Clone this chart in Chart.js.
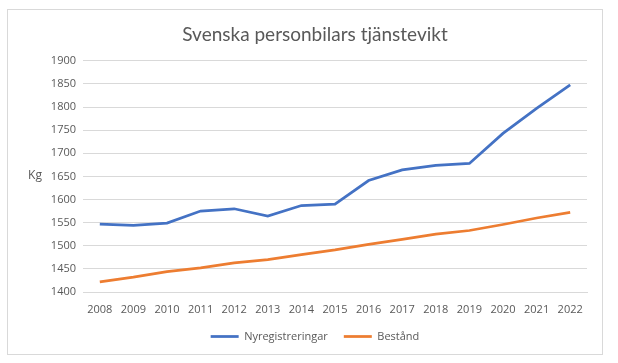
<!DOCTYPE html>
<html><head><meta charset="utf-8">
<script src="https://cdn.jsdelivr.net/npm/chart.js@4"></script>
<style>html,body{margin:0;padding:0;background:#fff;}#wrap{width:618px;height:363px;position:relative;}</style>
</head><body><div id="wrap"><canvas id="c" width="618" height="363"></canvas></div>
<script>
const years = ["2008","2009","2010","2011","2012","2013","2014","2015","2016","2017","2018","2019","2020","2021","2022"];
const nyregistreringar = [1547,1544,1549,1575,1580,1564,1587,1590,1641,1664,1674,1678,1743,1797,1848];
const bestand = [1422,1432,1444,1452,1463,1470,1481,1491,1503,1514,1525,1533,1546,1560,1572];
const seriesNames = ["Nyregistreringar","Bestånd"];
const titleText = "Svenska personbilars tjänstevikt";
const yAxisLabel = "Kg";

const FONT = "'Open Sans', 'Noto Sans', sans-serif";
const TFONT = "Lato, 'Open Sans', sans-serif";
const frame = {
  id: 'frame',
  beforeDraw(chart){
    const ctx = chart.ctx;
    ctx.save();
    ctx.fillStyle = '#fff';
    ctx.fillRect(0,0,chart.width,chart.height);
    ctx.strokeStyle = '#d9d9d9';
    ctx.lineWidth = 1;
    ctx.strokeRect(7.5,9.5,595,345);
    ctx.restore();
  },
  afterDraw(chart){
    const ctx = chart.ctx;
    ctx.save();
    ctx.fillStyle = '#595959';
    ctx.font = "12px " + FONT;
    ctx.textAlign = 'center';
    ctx.textBaseline = 'middle';
    ctx.fillText(yAxisLabel, 35, 176);
    ctx.restore();
  }
};

new Chart(document.getElementById('c'), {
  type: 'line',
  data: {
    labels: years,
    datasets: [
      {label: seriesNames[0], data: nyregistreringar, borderColor: '#4472C4', backgroundColor: '#4472C4', borderWidth: 2.75, pointRadius: 0, tension: 0},
      {label: seriesNames[1], data: bestand, borderColor: '#ED7D31', backgroundColor: '#ED7D31', borderWidth: 2.75, pointRadius: 0, tension: 0}
    ]
  },
  options: {
    responsive: false,
    animation: false,
    layout: {padding: {left: 43, right: 31, top: 10, bottom: 11}},
    plugins: {
      title: {display: true, text: titleText, color: '#595959', font: {family: TFONT, size: 19, weight: 'normal'}, padding: {top: 13, bottom: 15}},
      legend: {
        position: 'bottom',
        labels: {color: '#595959', font: {family: FONT, size: 11}, usePointStyle: true, pointStyle: 'line', pointStyleWidth: 28, padding: 16}
      },
      tooltip: {enabled: false}
    },
    scales: {
      x: {
        offset: true,
        grid: {display: false},
        border: {color: '#d9d9d9'},
        ticks: {color: '#595959', font: {family: FONT, size: 11}, maxRotation: 0, autoSkip: false, padding: 3},
        afterFit(s){ s.height = 23; }
      },
      y: {
        min: 1400, max: 1900,
        ticks: {stepSize: 50, color: '#595959', font: {family: FONT, size: 11}, padding: 7, callback: v => String(v)},
        grid: {color: '#d9d9d9', drawTicks: false},
        border: {display: false},
        afterFit(s){ s.width = 40; }
      }
    }
  },
  plugins: [frame]
});
</script>
</body></html>
